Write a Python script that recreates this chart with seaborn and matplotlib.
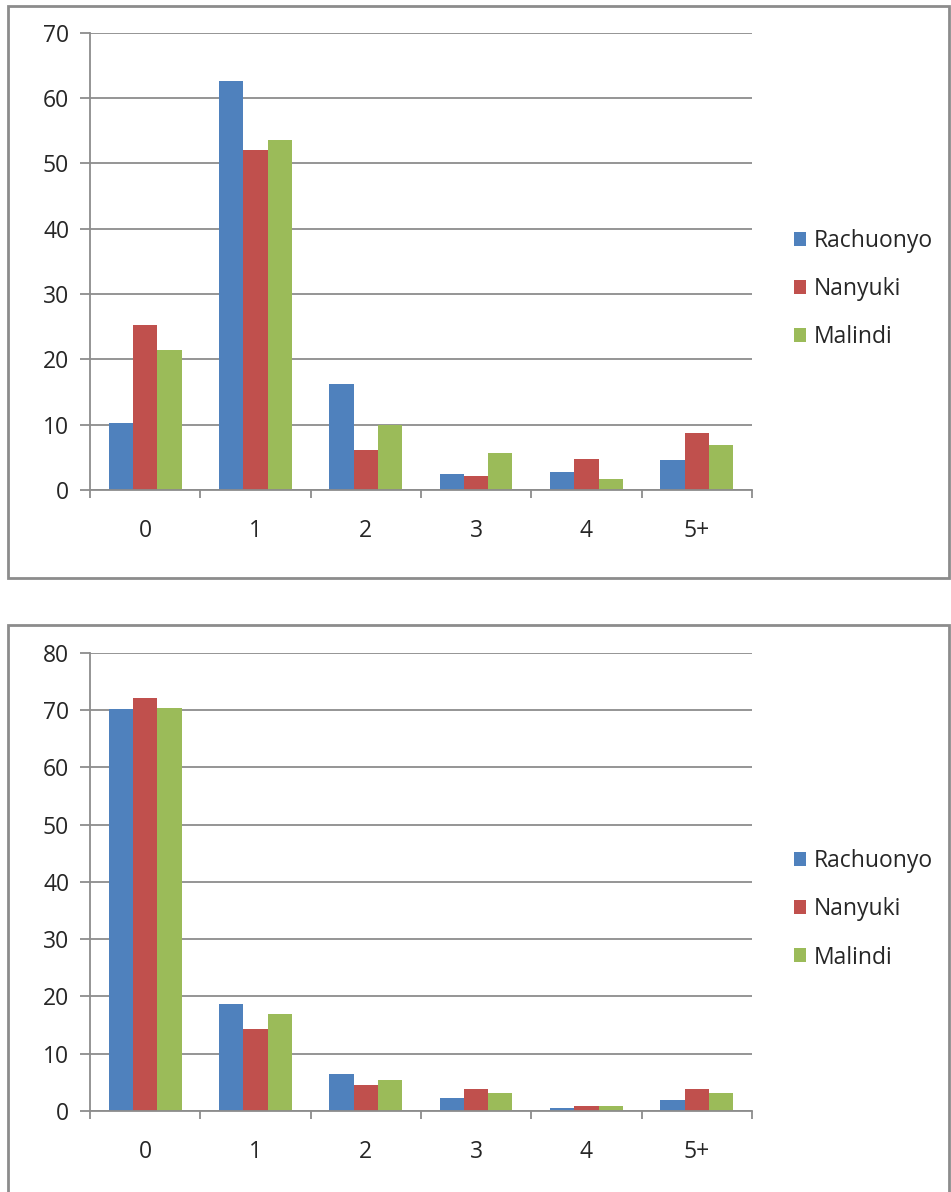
import pandas as pd
import matplotlib.pyplot as plt
import seaborn as sns
from matplotlib.patches import Rectangle
from matplotlib.ticker import FixedLocator

# --- data ---
categories = ["0", "1", "2", "3", "4", "5+"]
districts = ["Rachuonyo", "Nanyuki", "Malindi"]

top_rachuonyo = [10.2, 62.6, 16.2, 2.5, 2.8, 4.6]
top_nanyuki = [25.2, 52.1, 6.1, 2.1, 4.8, 8.7]
top_malindi = [21.4, 53.6, 10.0, 5.6, 1.6, 6.9]

bottom_rachuonyo = [70.2, 18.7, 6.5, 2.3, 0.5, 1.9]
bottom_nanyuki = [72.2, 14.4, 4.5, 3.8, 0.9, 3.8]
bottom_malindi = [70.4, 17.0, 5.4, 3.1, 0.9, 3.1]

palette = ["#4F81BD", "#C0504D", "#9BBB59"]
grey = "#8c8c8c"
text_col = "#262626"


def to_long(series):
    rows = []
    for district, values in zip(districts, series):
        for cat, v in zip(categories, values):
            rows.append((cat, district, v))
    return pd.DataFrame(rows, columns=["Count", "District", "Percent"])


sns.set_style("white")
plt.rcParams["font.family"] = ["Open Sans", "DejaVu Sans"]

fig = plt.figure(figsize=(9.51, 11.92), dpi=100)

# chart frames
fig.patches.append(Rectangle((0.0084, 0.515), 0.99, 0.48, transform=fig.transFigure,
                             fill=False, edgecolor=grey, linewidth=2))
fig.patches.append(Rectangle((0.0084, -0.02), 0.99, 0.4957, transform=fig.transFigure,
                             fill=False, edgecolor=grey, linewidth=2))

panels = [
    ([0.0946, 0.589, 0.696, 0.3834], [top_rachuonyo, top_nanyuki, top_malindi], 70),
    ([0.0946, 0.068, 0.696, 0.3842], [bottom_rachuonyo, bottom_nanyuki, bottom_malindi], 80),
]

for rect, series, ymax in panels:
    ax = fig.add_axes(rect)
    df = to_long(series)
    sns.barplot(data=df, x="Count", y="Percent", hue="District", palette=palette,
                width=0.66, gap=0, ax=ax, saturation=1, linewidth=0, legend=True)
    ax.set_xlim(-0.5, 5.5)
    ax.set_ylim(0, ymax)
    ax.set_yticks(range(0, ymax + 1, 10))
    ax.set_xlabel("")
    ax.set_ylabel("")

    ax.grid(axis="y", color=grey, linewidth=1.3)
    ax.set_axisbelow(True)
    for side in ["top", "right"]:
        ax.spines[side].set_visible(False)
    for side in ["left", "bottom"]:
        ax.spines[side].set_color(grey)
        ax.spines[side].set_linewidth(1.3)

    ax.tick_params(axis="y", length=7, width=1.3, color=grey, direction="out",
                   labelsize=16.5, pad=8, left=True, labelcolor=text_col)
    ax.tick_params(axis="x", which="major", length=0, pad=21, labelsize=16.5,
                   labelcolor=text_col)
    ax.xaxis.set_minor_locator(FixedLocator([i - 0.5 for i in range(7)]))
    ax.tick_params(axis="x", which="minor", length=6, width=1.3, color=grey,
                   direction="out", bottom=True)

    handles, labels = ax.get_legend_handles_labels()
    ax.legend(handles, labels, loc="center left", bbox_to_anchor=(1.063, 0.44),
              frameon=False, fontsize=16.5, handlelength=0.55, handleheight=0.55,
              handletextpad=0.35, labelspacing=1.05, borderaxespad=0, borderpad=0,
              labelcolor=text_col)

fig.savefig("out.png", dpi=100)
